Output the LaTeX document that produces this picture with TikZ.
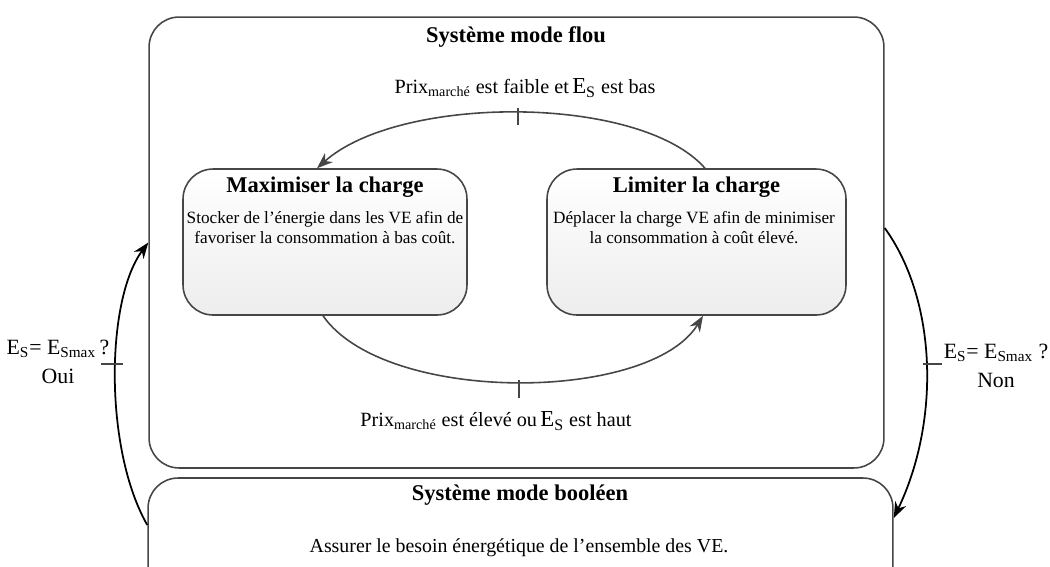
\documentclass[tikz,border=0pt]{standalone}
\usepackage{fontspec}
\setmainfont{Liberation Serif}
\usetikzlibrary{arrows.meta}
\definecolor{trait}{RGB}{70,70,70}
\newcommand{\grandE}[1]{{\fontsize{13}{13}\selectfont E\textsubscript{#1}}}

\begin{document}
\begin{tikzpicture}[x=0.02cm,y=-0.02cm,font=\fontsize{10.4}{11.4}\selectfont,
	cadre/.style={draw=trait,line width=0.9pt,rounded corners=0.6cm},
	etat/.style={cadre,top color=white,bottom color=gray!14,minimum width=#1,minimum height=2.92cm},
	titre/.style={font=\fontsize{12.8}{14}\selectfont\bfseries},
	texte/.style={align=center,font=\fontsize{9.8}{11.4}\selectfont},
	arc/.style={draw=trait,line width=0.9pt,-{Stealth[length=0.32cm,width=0.24cm]}},
	choix/.style={draw=black,line width=1pt,-{Stealth[length=0.32cm,width=0.24cm]}},
	marque/.style={draw=trait,line width=0.9pt},
	cond/.style={font=\fontsize{11.5}{13}\selectfont},
	test/.style={align=center,font=\fontsize{12.4}{16.5}\selectfont}]
	\useasboundingbox (0,0) rectangle (1050,566);
	\clip (0,0) rectangle (1050,566);
	\node[cadre,minimum width=14.7cm,minimum height=9.02cm] (flou) at (516.5,242.5) {};
	\node[cadre,minimum width=14.9cm,minimum height=2.34cm] (boole) at (520.5,536.5) {};
	\node[titre] (flouTitre) at (516,37) {Système mode flou};
	\node[titre] (booleTitre) at (520,495) {Système mode booléen};
	\node[texte,font=\fontsize{11.3}{13}\selectfont] (booleTexte) at (519,548) {Assurer le besoin énergétique de l’ensemble des VE.};
	\node[etat=5.68cm] (max) at (325,242) {};
	\node[etat=5.98cm] (lim) at (696.5,242) {};
	\node[titre] (maxTitre) at (325,187) {Maximiser la charge};
	\node[titre] (limTitre) at (696.5,187) {Limiter la charge};
	\node[texte] (maxTexte) at (325,228) {Stocker de l’énergie dans les VE afin de\\favoriser la consommation à bas coût.};
	\node[texte] (limTexte) at (694,228) {Déplacer la charge VE afin de minimiser\\la consommation à coût élevé.};
	\draw[arc] ([xshift=0.17cm]lim.north) .. controls +(-65,-74) and +(83,-74) .. ([xshift=-0.16cm]max.north);
	\draw[arc] ([xshift=-0.04cm]max.south) .. controls +(62,89) and +(-53,87) .. ([xshift=0.13cm]lim.south);
	\draw[marque] (518,108) -- (518,125);
	\draw[marque] (519,380) -- (519,398);
	\node[cond] (condHaut) at (525,88) {Prix\textsubscript{marché} est faible et\,\grandE{S} est bas};
	\node[cond] (condBas) at (496,421) {Prix\textsubscript{marché} est élevé ou\,\grandE{S} est haut};
	\draw[choix] ([yshift=0.23cm]boole.west) .. controls +(-43,-75) and +(-43,58) .. (flou.west);
	\draw[choix] ([yshift=0.29cm]flou.east) .. controls +(52,72) and +(47,-98) .. ([yshift=0.37cm]boole.east);
	\draw[marque] (101,364) -- (123,364);
	\draw[marque] (923,364) -- (942,364);
	\node[test] (oui) at (58,362) {E\textsubscript{S}= E\textsubscript{Smax}\,?\\Oui};
	\node[test] (non) at (996,366) {E\textsubscript{S}= E\textsubscript{Smax} ?\\Non};
\end{tikzpicture}
\end{document}
